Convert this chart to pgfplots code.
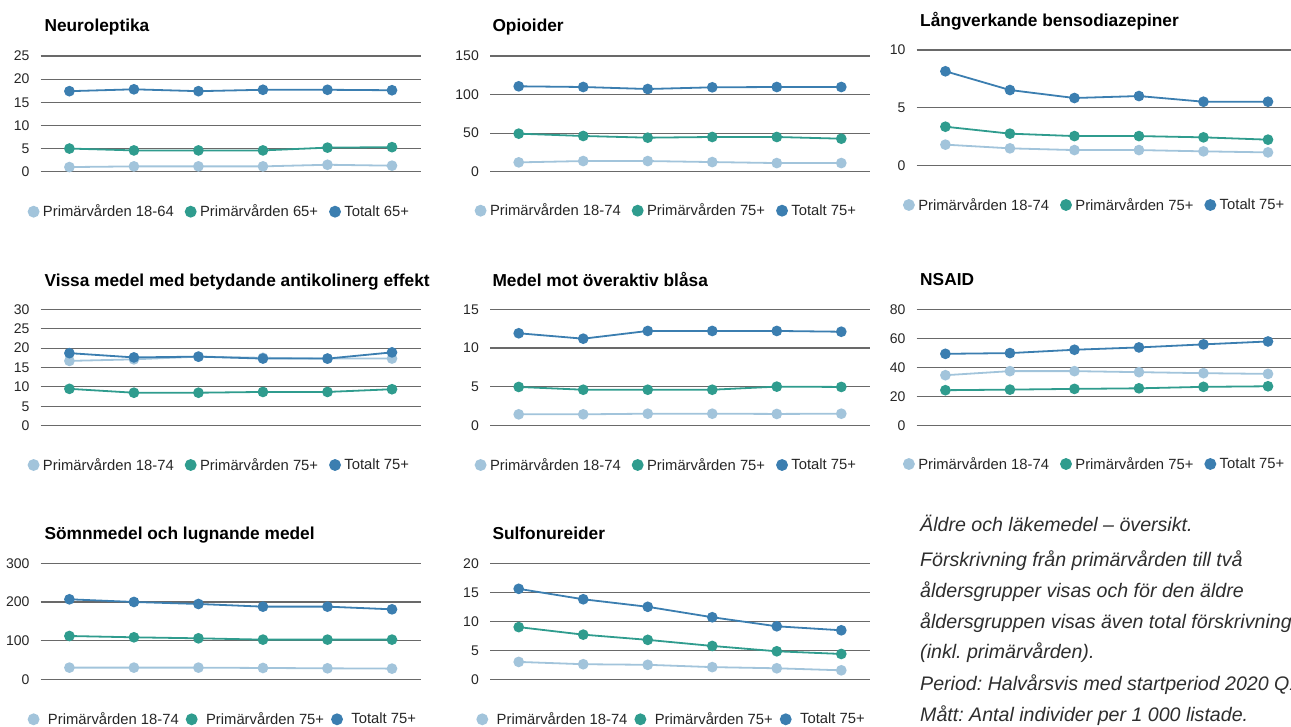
\documentclass[border=0pt]{standalone}
\usepackage{pgfplots}
\pgfplotsset{compat=1.18}
\usepackage{fontspec}
\setmainfont{Liberation Sans}
\frenchspacing
\definecolor{cLight}{RGB}{162,196,219}
\definecolor{cTeal}{RGB}{47,156,142}
\definecolor{cDark}{RGB}{59,126,176}
\definecolor{cGrid}{RGB}{105,105,105}
\pgfplotsset{
  panel/.style={
    scale only axis, width=380pt, xmin=-0.445, xmax=5.445, ymin=0,
    axis line style={draw=none}, major tick length=0pt, tick style={draw=none},
    xtick=\empty, ymajorgrids, grid style={cGrid, line width=1.1pt},
    clip=false,
    /pgf/number format/assume math mode=true,
    yticklabel style={anchor=east, inner sep=0pt, xshift=-11pt, font=\fontsize{14}{16}\selectfont, text=black!85},
    legend columns=3, legend cell align=left,
    legend image code/.code={\fill[##1] (5pt,0pt) circle (5pt);},
    legend style={draw=none, fill=none, anchor=west, at={(0,0)}, inner sep=0pt,
      font=\fontsize{14.8}{16}\selectfont, text=black!85, nodes={inner sep=0pt},
      /tikz/every odd column/.append style={column sep=3.5pt},
      /tikz/every even column/.append style={column sep=11pt}},
    every axis plot/.append style={line width=1.8pt, mark=*, mark size=4.4pt, mark options={solid}},
  },
  wide legend/.style={legend style={
      /tikz/every odd column/.append style={column sep=8.5pt},
      /tikz/every even column/.append style={column sep=7pt}}},
}
\newcommand{\ttl}[2]{\node[anchor=base west, font=\bfseries\fontsize{17.3}{20}\selectfont, text=black] at #1 {#2};}
\newcommand{\nt}[2]{\node[anchor=base west, font=\itshape\fontsize{19.6}{22}\selectfont, text=black!82] at #1 {#2};}
\begin{document}
\begin{tikzpicture}
\path[use as bounding box] (0pt,0pt) rectangle (1291pt,-727pt);
\clip (0pt,0pt) rectangle (1291pt,-727pt);

% ---------- Row 1 ----------
\begin{axis}[panel, at={(40.7pt,-171.7pt)}, height=115.7pt, ymax=25, ytick={0,5,...,25},
  legend style={xshift=-13.2pt, yshift=-40pt}]
\addplot[cLight] coordinates {(0,1.0)(1,1.15)(2,1.15)(3,1.15)(4,1.5)(5,1.3)};
\addplot[cTeal] coordinates {(0,5.0)(1,4.6)(2,4.6)(3,4.6)(4,5.2)(5,5.3)};
\addplot[cDark] coordinates {(0,17.4)(1,17.8)(2,17.4)(3,17.7)(4,17.7)(5,17.6)};
\legend{Primärvården 18-64, Primärvården 65+, Totalt 65+}
\end{axis}

\begin{axis}[panel, at={(490pt,-171.7pt)}, height=115.7pt, ymax=150, ytick={0,50,100,150},
  legend style={xshift=-15.5pt, yshift=-39pt}]
\addplot[cLight] coordinates {(0,12.1)(1,13.8)(2,13.8)(3,12.5)(4,11.2)(5,11.2)};
\addplot[cTeal] coordinates {(0,49.3)(1,46.3)(2,44.1)(3,45.0)(4,45.0)(5,42.8)};
\addplot[cDark] coordinates {(0,110.7)(1,109.8)(2,107.2)(3,109.4)(4,109.8)(5,109.8)};
\legend{Primärvården 18-74, Primärvården 75+, Totalt 75+}
\end{axis}

\begin{axis}[panel, at={(916.7pt,-165.7pt)}, height=115.7pt, ymax=10, ytick={0,5,10},
  legend style={xshift=-13.9pt, yshift=-39.3pt}]
\addplot[cLight] coordinates {(0,1.82)(1,1.50)(2,1.35)(3,1.35)(4,1.24)(5,1.15)};
\addplot[cTeal] coordinates {(0,3.37)(1,2.77)(2,2.56)(3,2.56)(4,2.45)(5,2.25)};
\addplot[cDark] coordinates {(0,8.16)(1,6.54)(2,5.85)(3,6.02)(4,5.53)(5,5.53)};
\legend{Primärvården 18-74, Primärvården 75+, Totalt 75+}
\end{axis}

% ---------- Row 2 ----------
\begin{axis}[panel, at={(40.7pt,-425.7pt)}, height=116.4pt, ymax=30, ytick={0,5,...,30},
  legend style={xshift=-13.2pt, yshift=-39.3pt}]
\addplot[cLight] coordinates {(0,16.7)(1,17.1)(2,17.8)(3,17.5)(4,17.3)(5,17.3)};
\addplot[cTeal] coordinates {(0,9.5)(1,8.5)(2,8.5)(3,8.7)(4,8.7)(5,9.4)};
\addplot[cDark] coordinates {(0,18.7)(1,17.6)(2,17.8)(3,17.3)(4,17.3)(5,18.9)};
\legend{Primärvården 18-74, Primärvården 75+, Totalt 75+}
\end{axis}

\begin{axis}[panel, at={(490pt,-425.3pt)}, height=116pt, ymax=15, ytick={0,5,10,15},
  legend style={xshift=-15.5pt, yshift=-39.7pt}]
\addplot[cLight] coordinates {(0,1.42)(1,1.42)(2,1.5)(3,1.5)(4,1.47)(5,1.5)};
\addplot[cTeal] coordinates {(0,4.96)(1,4.6)(2,4.6)(3,4.6)(4,5.0)(5,4.96)};
\addplot[cDark] coordinates {(0,11.9)(1,11.2)(2,12.2)(3,12.2)(4,12.2)(5,12.1)};
\legend{Primärvården 18-74, Primärvården 75+, Totalt 75+}
\end{axis}

\begin{axis}[panel, at={(916.7pt,-425.7pt)}, height=116.4pt, ymax=80, ytick={0,20,...,80},
  legend style={xshift=-13.9pt, yshift=-38.3pt}]
\addplot[cLight] coordinates {(0,34.7)(1,37.5)(2,37.5)(3,36.8)(4,36.1)(5,35.6)};
\addplot[cTeal] coordinates {(0,24.4)(1,24.8)(2,25.3)(3,25.7)(4,26.7)(5,27.1)};
\addplot[cDark] coordinates {(0,49.4)(1,49.9)(2,52.2)(3,53.8)(4,55.9)(5,57.9)};
\legend{Primärvården 18-74, Primärvården 75+, Totalt 75+}
\end{axis}

% ---------- Row 3 ----------
\begin{axis}[panel, wide legend, at={(40.7pt,-679.3pt)}, height=116pt, ymax=300, ytick={0,100,200,300},
  legend style={xshift=-13.2pt, yshift=-40pt}]
\addplot[cLight] coordinates {(0,30.2)(1,30.2)(2,30.2)(3,29.3)(4,28.4)(5,27.6)};
\addplot[cTeal] coordinates {(0,112)(1,108.6)(2,106)(3,102.6)(4,102.6)(5,102.6)};
\addplot[cDark] coordinates {(0,206.9)(1,200)(2,194.8)(3,187.9)(4,187.9)(5,181)};
\legend{Primärvården 18-74, Primärvården 75+, Totalt 75+}
\end{axis}

\begin{axis}[panel, wide legend, at={(490pt,-679.3pt)}, height=116pt, ymax=20, ytick={0,5,...,20},
  legend style={xshift=-13.8pt, yshift=-40pt}]
\addplot[cLight] coordinates {(0,3.0)(1,2.6)(2,2.5)(3,2.1)(4,1.9)(5,1.55)};
\addplot[cTeal] coordinates {(0,9.0)(1,7.7)(2,6.8)(3,5.75)(4,4.83)(5,4.37)};
\addplot[cDark] coordinates {(0,15.6)(1,13.8)(2,12.5)(3,10.7)(4,9.14)(5,8.45)};
\legend{Primärvården 18-74, Primärvården 75+, Totalt 75+}
\end{axis}

% ---------- Titles ----------
\ttl{(41pt,-31.3pt)}{Neuroleptika}
\ttl{(489pt,-31.3pt)}{Opioider}
\ttl{(916.7pt,-26.3pt)}{Långverkande bensodiazepiner}
\ttl{(41pt,-286.3pt)}{Vissa medel med betydande antikolinerg effekt}
\ttl{(489pt,-286.3pt)}{Medel mot överaktiv blåsa}
\ttl{(916.7pt,-285.6pt)}{NSAID}
\ttl{(41pt,-539.6pt)}{Sömnmedel och lugnande medel}
\ttl{(489pt,-539pt)}{Sulfonureider}

% ---------- Note ----------
\nt{(916.7pt,-531.5pt)}{Äldre och läkemedel – översikt.}
\nt{(916.7pt,-566.7pt)}{Förskrivning från primärvården till två}
\nt{(916.7pt,-597pt)}{åldersgrupper visas och för den äldre}
\nt{(916.7pt,-628.3pt)}{åldersgruppen visas även total förskrivning}
\nt{(916.7pt,-658.5pt)}{(inkl. primärvården).}
\nt{(916.7pt,-690pt)}{Period: Halvårsvis med startperiod 2020 Q1+}
\nt{(916.7pt,-721.7pt)}{Mått: Antal individer per 1 000 listade.}
\end{tikzpicture}
\end{document}
